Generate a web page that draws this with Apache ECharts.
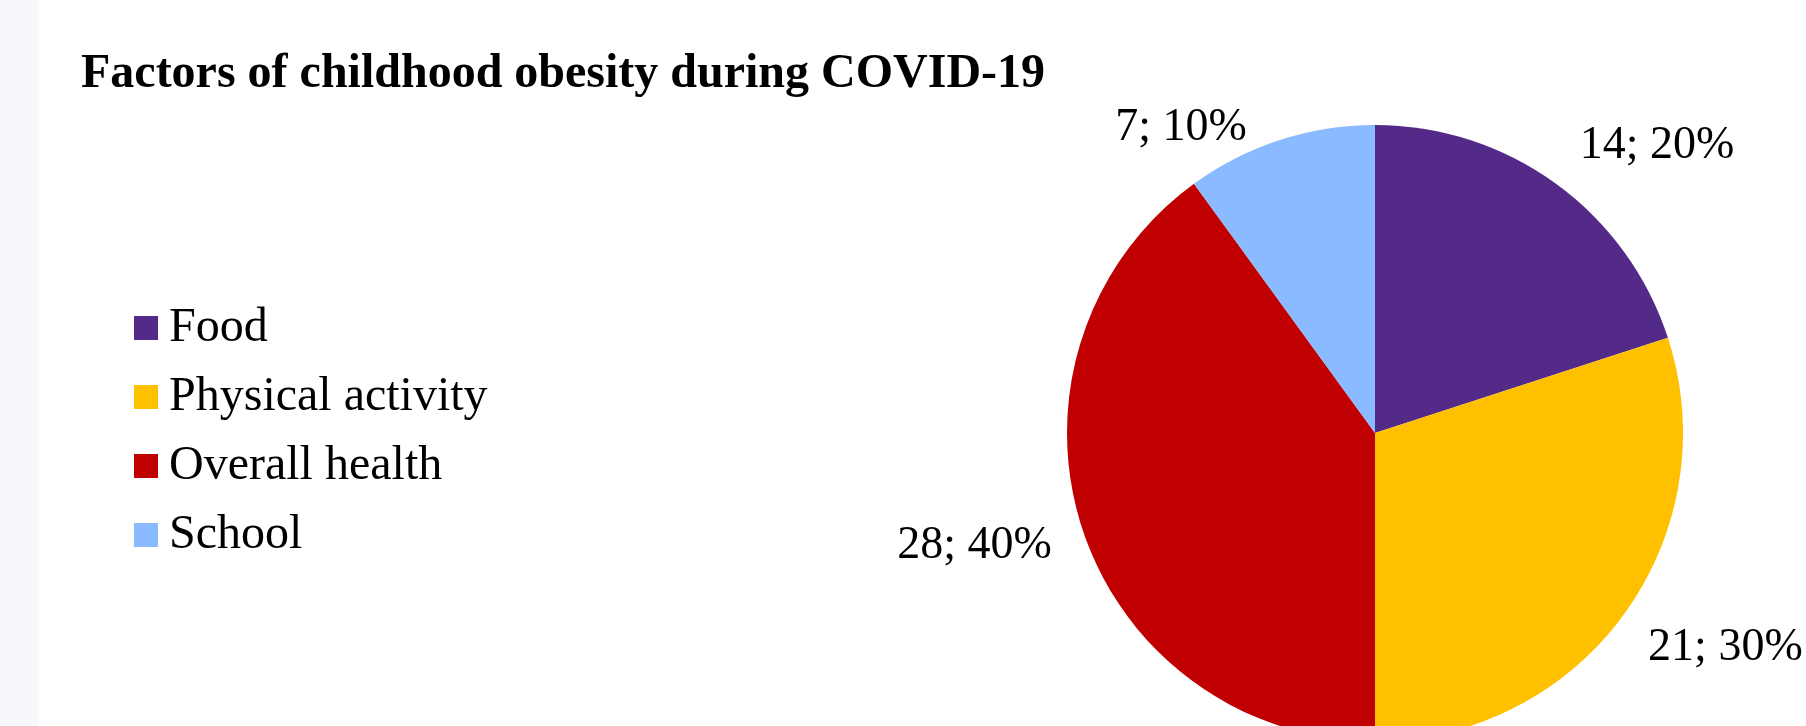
<!DOCTYPE html>
<html>
<head>
<meta charset="utf-8">
<title>Factors of childhood obesity during COVID-19</title>
<script src="https://cdn.jsdelivr.net/npm/echarts@6/dist/echarts.min.js"></script>
<style>
    html, body { margin: 0; padding: 0; background: #ffffff; }
    #chart { width: 1806px; height: 726px; }
</style>
</head>
<body>
<div id="chart"></div>
<script>
// data
const categories = ['Food', 'Physical activity', 'Overall health', 'School'];
const counts = [14, 21, 28, 7];
const sliceColors = ['#542A88', '#FFC000', '#C00000', '#8ABAFF'];

// label nudges (Excel "best fit" does not sit on the slice middle)
const labelLen = [47, 58, 58, 13];
const labelLen2 = [-9, -28, -30, 24];

const chartDom = document.getElementById('chart');
const myChart = echarts.init(chartDom);

const total = counts.reduce((a, b) => a + b, 0);

const pieData = categories.map((name, i) => ({
    name: name,
    value: counts[i],
    itemStyle: { color: sliceColors[i] },
    labelLine: { length: labelLen[i], length2: labelLen2[i] },
}));

const serif = '"Liberation Serif", "Times New Roman", serif';

const option = {
    animation: false,
    backgroundColor: '#ffffff',
    graphic: [
        {
            type: 'rect',
            left: 0,
            top: 0,
            shape: { width: 39, height: 726 },
            style: { fill: '#F6F8FB' },
            z: -1,
        },
    ],
    title: {
        text: 'Factors of childhood obesity during COVID-19',
        left: 81,
        top: 51,
        padding: 0,
        textStyle: {
            fontFamily: serif,
            fontSize: 48,
            fontWeight: 'bold',
            color: '#000000',
            lineHeight: 48,
        },
    },
    legend: {
        orient: 'vertical',
        left: 134,
        top: 304,
        padding: 0,
        itemWidth: 24,
        itemHeight: 24,
        itemGap: 21,
        icon: 'rect',
        selectedMode: false,
        data: categories,
        textStyle: {
            fontFamily: serif,
            fontSize: 48,
            lineHeight: 48,
            color: '#000000',
            padding: [0, 0, 0, 6],
        },
    },
    series: [
        {
            type: 'pie',
            center: [1375, 433],
            radius: 308,
            startAngle: 90,
            clockwise: true,
            avoidLabelOverlap: false,
            itemStyle: { borderWidth: 0 },
            label: {
                show: true,
                position: 'outside',
                fontFamily: serif,
                fontSize: 46,
                color: '#000000',
                formatter: function (p) {
                    return p.value + '; ' + Math.round(p.value / total * 100) + '%';
                },
            },
            labelLine: { show: false },
            emphasis: { disabled: true },
            data: pieData,
        },
    ],
};

myChart.setOption(option);
</script>
</body>
</html>
